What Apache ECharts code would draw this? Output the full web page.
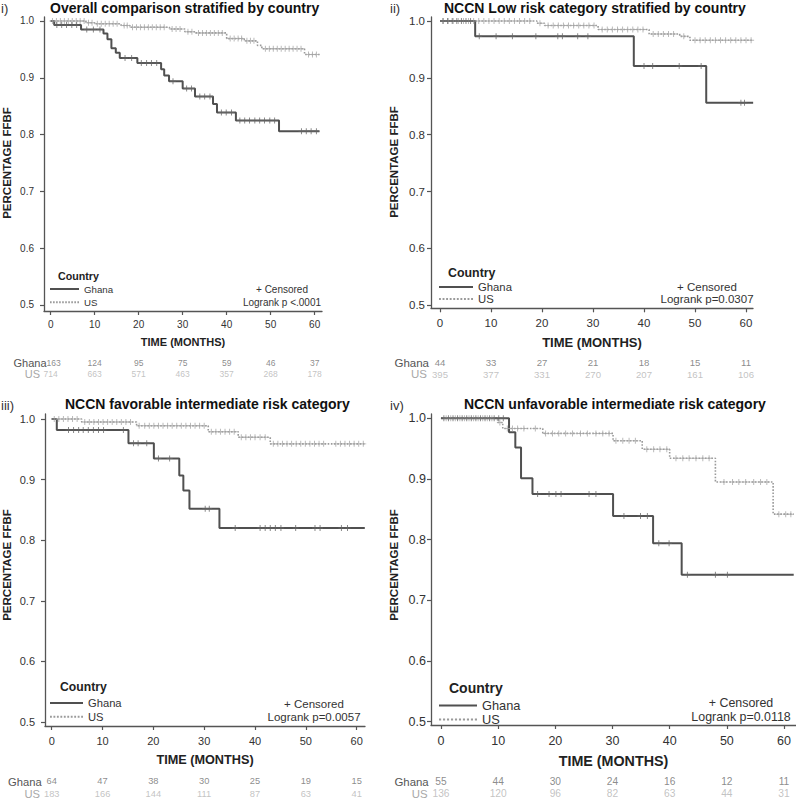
<!DOCTYPE html>
<html><head><meta charset="utf-8">
<script src="https://cdn.jsdelivr.net/npm/echarts@6/dist/echarts.min.js"></script>
<style>html,body{margin:0;padding:0;background:#fff}#c{width:796px;height:800px}</style>
</head><body><div id="c"></div>
<script>
// ---------------- DATA ----------------
const xTicks = [0, 10, 20, 30, 40, 50, 60];
const yTicks = [0.5, 0.6, 0.7, 0.8, 0.9, 1.0];
const groupNames = ['Ghana', 'US'];
const panelTags = ['i)', 'ii)', 'iii)', 'iv)'];
const panelTitles = [
  'Overall comparison stratified by country',
  'NCCN Low risk category stratified by country',
  'NCCN favorable intermediate risk category',
  'NCCN unfavorable intermediate risk category'
];
const yAxisTitle = 'PERCENTAGE FFBF';
const xAxisTitle = 'TIME (MONTHS)';
const legendTitle = 'Country';
const censoredNote = '+ Censored';
const logrankTexts = ['Logrank p <.0001', 'Logrank p=0.0307', 'Logrank p=0.0057', 'Logrank p=0.0118'];

// Panel i
const p1GhanaTimes = [0, 0.8, 6.9, 12.0, 12.9, 13.8, 14.8, 15.7, 19.7, 25.1, 25.8, 26.9, 30.0, 32.8, 36.9, 37.8, 42.1, 51.9];
const p1GhanaSurv  = [1.0, 0.993, 0.985, 0.978, 0.968, 0.952, 0.944, 0.935, 0.926, 0.915, 0.904, 0.894, 0.881, 0.867, 0.854, 0.839, 0.825, 0.806];
const p1GhanaLast = 61.1;
const p1GhanaCens = [1.4, 2.5, 3.6, 4.8, 5.9, 8.2, 9.7, 11.2, 16.9, 18.4, 20.6, 21.8, 22.9, 24.1, 27.8, 30.9, 32.0, 33.9, 35.0, 36.2, 38.8, 39.9, 41.1, 43.0, 44.1, 45.2, 46.4, 47.5, 48.6, 49.8, 50.9, 57.0, 58.1, 59.2, 60.4];
const p1USTimes = [0, 8, 10, 16, 18, 27, 30.5, 33, 40, 44, 47, 48, 57.7];
const p1USSurv  = [1.0, 0.997, 0.995, 0.992, 0.989, 0.986, 0.981, 0.979, 0.969, 0.965, 0.957, 0.951, 0.941];
const p1USLast = 61.2;
const p1USCens = [0.4, 1.3, 2.2, 3.1, 4.0, 4.9, 5.8, 6.7, 7.6, 8.6, 9.4, 10.6, 11.5, 12.4, 13.3, 14.2, 15.1, 16.7, 17.4, 18.6, 19.5, 20.4, 21.3, 22.2, 23.1, 24.0, 24.9, 25.8, 27.6, 28.5, 29.4, 31.2, 32.1, 33.6, 34.5, 35.4, 36.3, 37.2, 38.1, 39.0, 40.8, 41.7, 42.6, 43.4, 44.6, 45.4, 46.2, 48.8, 49.7, 50.6, 51.5, 52.4, 53.3, 54.2, 55.1, 56.0, 56.9, 58.6, 59.5, 60.4];
const p1GhanaRisk = [163, 124, 95, 75, 59, 46, 37];
const p1USRisk = [714, 663, 571, 463, 357, 268, 178];

// Panel ii
const p2GhanaTimes = [0, 6.9, 38.0, 52.2];
const p2GhanaSurv  = [1.0, 0.973, 0.921, 0.856];
const p2GhanaLast = 61.4;
const p2GhanaCens = [0.6, 1.5, 2.4, 3.3, 4.2, 5.1, 6.0, 7.7, 11.0, 14.2, 18.8, 23.1, 24.0, 27.0, 29.0, 40.0, 41.7, 46.9, 51.2, 59.0, 59.7];
const p2USTimes = [0, 19, 20.5, 31, 41, 47, 49];
const p2USSurv  = [1.0, 0.996, 0.992, 0.985, 0.977, 0.973, 0.966];
const p2USLast = 61.4;
const p2USCens = [0.6, 1.6, 2.6, 3.6, 4.6, 5.6, 6.6, 7.6, 8.6, 9.6, 10.6, 11.6, 12.6, 13.6, 14.6, 15.6, 16.6, 17.6, 19.6, 21.2, 22.2, 23.2, 24.2, 25.2, 26.2, 27.2, 28.2, 29.2, 30.2, 31.8, 32.8, 33.8, 34.8, 35.8, 36.8, 37.8, 38.8, 39.8, 41.8, 42.8, 43.8, 44.8, 45.8, 47.8, 50.0, 51.0, 52.0, 53.0, 54.0, 55.0, 56.0, 57.0, 58.0, 59.0, 60.0, 61.0];
const p2GhanaRisk = [44, 33, 27, 21, 18, 15, 11];
const p2USRisk = [395, 377, 331, 270, 207, 161, 106];

// Panel iii
const p3GhanaTimes = [0, 1.0, 15.1, 20.1, 25.1, 25.9, 27.1, 33.0];
const p3GhanaSurv  = [1.0, 0.982, 0.960, 0.935, 0.907, 0.882, 0.852, 0.820];
const p3GhanaLast = 61.6;
const p3GhanaCens = [3.3, 4.3, 5.3, 6.2, 7.2, 8.2, 9.2, 10.2, 14.1, 16.1, 17.0, 18.7, 21.0, 23.2, 30.2, 31.0, 36.1, 41.0, 42.0, 43.0, 44.0, 45.1, 48.0, 51.8, 52.8, 57.0, 58.2];
const p3USTimes = [0, 5.9, 16.7, 30.8, 36.7, 43.0];
const p3USSurv  = [1.0, 0.995, 0.989, 0.979, 0.970, 0.959];
const p3USLast = 61.6;
const p3USCens = [0.5, 1.4, 2.3, 3.2, 4.1, 5.0, 6.5, 7.4, 8.3, 9.2, 10.1, 11.0, 11.9, 12.8, 13.7, 14.6, 15.5, 17.2, 18.3, 19.2, 20.1, 21.0, 21.9, 22.8, 23.7, 24.6, 25.5, 26.4, 27.3, 28.2, 29.1, 30.0, 31.4, 32.3, 33.2, 34.1, 35.0, 35.9, 37.3, 38.2, 39.1, 40.0, 41.0, 42.0, 43.6, 44.5, 45.4, 46.3, 47.2, 48.1, 49.0, 49.9, 50.8, 51.7, 52.6, 53.5, 55.9, 56.8, 57.7, 58.6, 59.5, 60.4, 61.3];
const p3GhanaRisk = [64, 47, 38, 30, 25, 19, 15];
const p3USRisk = [183, 166, 144, 111, 87, 63, 41];

// Panel iv
const p4GhanaTimes = [0, 11.9, 13.0, 14.0, 16.0, 30.1, 37.1, 42.1];
const p4GhanaSurv  = [1.0, 0.977, 0.952, 0.901, 0.875, 0.839, 0.794, 0.742];
const p4GhanaLast = 61.7;
const p4GhanaCens = [0.5, 1.3, 2.1, 2.9, 3.7, 4.5, 5.3, 6.1, 6.9, 7.7, 8.5, 9.3, 10.1, 10.9, 16.9, 18.9, 20.1, 21.0, 25.9, 27.1, 32.0, 34.9, 36.1, 38.1, 39.9, 43.1, 48.0, 50.1];
const p4USTimes = [0, 9.9, 10.8, 17.8, 30.1, 35.2, 40.0, 48.0, 58.1];
const p4USSurv  = [1.0, 0.993, 0.983, 0.975, 0.963, 0.949, 0.934, 0.895, 0.842];
const p4USLast = 61.7;
const p4USCens = [0.9, 1.7, 2.5, 3.3, 4.1, 4.9, 5.7, 6.5, 7.3, 8.1, 8.9, 10.3, 11.6, 12.5, 13.4, 14.5, 16.5, 18.3, 19.5, 20.6, 21.8, 23.0, 24.4, 25.6, 27.1, 28.3, 29.4, 30.6, 31.8, 32.9, 34.0, 36.0, 37.2, 38.3, 39.5, 41.1, 42.3, 43.4, 44.6, 45.8, 46.9, 49.5, 51.0, 52.1, 53.3, 54.7, 55.9, 57.0, 59.1, 60.3, 61.2];
const p4GhanaRisk = [55, 44, 30, 24, 16, 12, 11];
const p4USRisk = [136, 120, 96, 82, 63, 44, 31];

// ---------------- ASSEMBLY ----------------
const panelData = [
  {gT: p1GhanaTimes, gS: p1GhanaSurv, gL: p1GhanaLast, gC: p1GhanaCens, uT: p1USTimes, uS: p1USSurv, uL: p1USLast, uC: p1USCens, gR: p1GhanaRisk, uR: p1USRisk},
  {gT: p2GhanaTimes, gS: p2GhanaSurv, gL: p2GhanaLast, gC: p2GhanaCens, uT: p2USTimes, uS: p2USSurv, uL: p2USLast, uC: p2USCens, gR: p2GhanaRisk, uR: p2USRisk},
  {gT: p3GhanaTimes, gS: p3GhanaSurv, gL: p3GhanaLast, gC: p3GhanaCens, uT: p3USTimes, uS: p3USSurv, uL: p3USLast, uC: p3USCens, gR: p3GhanaRisk, uR: p3USRisk},
  {gT: p4GhanaTimes, gS: p4GhanaSurv, gL: p4GhanaLast, gC: p4GhanaCens, uT: p4USTimes, uS: p4USSurv, uL: p4USLast, uC: p4USCens, gR: p4GhanaRisk, uR: p4USRisk}
];

// layout (pixels) per panel
const layout = [
  {l: 44, r: 322, t: 17, b: 311, xmin: -1.52, xmax: 61.67, ymin: 0.4894, ymax: 1.007,
   tagX: 1, tagY: 8, titleX: 50, titleY: 8, yNameX: 7, yNameY: 163,
   tickFs: 10, yMargin: 6, xMargin: 8, xNameFs: 11, xNameGap: 25.5,
   cX: 58, cY: 276, cFs: 10.7, legX: 50, legY0: 289, legPitch: 13.3, legW: 29, legFs: 9.7,
   noteX: 282, censY: 289, lrY: 302, noteFs: 10,
   rY0: 362.7, rY1: 374.3, rFs: 8.5, rlFs: 11, gLabR: 46.5, uLabR: 40, firstShift: 3},
  {l: 431, r: 753, t: 17, b: 308.3, xmin: -1.76, xmax: 61.37, ymin: 0.4947, ymax: 1.007,
   tagX: 390, tagY: 8, titleX: 444, titleY: 8, yNameX: 394, yNameY: 162,
   tickFs: 11.5, yMargin: 2, xMargin: 9, xNameFs: 13, xNameGap: 28,
   cX: 448, cY: 273, cFs: 12.4, legX: 439, legY0: 287, legPitch: 12, legW: 34, legFs: 11.3,
   noteX: 707, censY: 286.5, lrY: 299, noteFs: 11.5,
   rY0: 362.7, rY1: 374.3, rFs: 9.6, rlFs: 11.5, gLabR: 429, uLabR: 427, firstShift: 0},
  {l: 45, r: 365, t: 414, b: 726, xmin: -1.32, xmax: 61.64, ymin: 0.4934, ymax: 1.0083,
   tagX: 1, tagY: 405, titleX: 65, titleY: 404, yNameX: 7, yNameY: 565,
   tickFs: 11, yMargin: 6, xMargin: 9, xNameFs: 12.7, xNameGap: 27.5,
   cX: 60, cY: 687, cFs: 12.2, legX: 50, legY0: 703, legPitch: 13.7, legW: 33, legFs: 11.2,
   noteX: 314, censY: 703.5, lrY: 717, noteFs: 11.5,
   rY0: 781.5, rY1: 794, rFs: 9.3, rlFs: 11.2, gLabR: 41.7, uLabR: 40, firstShift: 0},
  {l: 431, r: 796, t: 414, b: 725, xmin: -1.75, xmax: 62.1, ymin: 0.4946, ymax: 1.007,
   tagX: 390, tagY: 405, titleX: 464, titleY: 404, yNameX: 394, yNameY: 565,
   tickFs: 12.5, yMargin: 1, xMargin: 9, xNameFs: 14.3, xNameGap: 29,
   cX: 449, cY: 688, cFs: 14, legX: 439, legY0: 705, legPitch: 13, legW: 38, legFs: 12.8,
   noteX: 741, censY: 703, lrY: 717, noteFs: 12.4,
   rY0: 781.5, rY1: 794, rFs: 10.2, rlFs: 11.4, gLabR: 428.7, uLabR: 427.7, firstShift: 0}
];

const FONT = '"Liberation Sans", Arial, Helvetica, sans-serif';
const GHANA_COLOR = '#505050';
const US_COLOR = '#9a9a9a';
const AXIS_COLOR = '#555555';
const PLUS = 'path://M0,4.2h10v1.6h-10z M4.2,0h1.6v10h-1.6z';
const SOLID_ICON = 'path://M0,0h30v2h-30z';
const DOTTED_ICON = 'path://' + Array.from({length: 10}, (_, i) => `M${i * 3},0h1.6v2h-1.6z`).join(' ');

function survAt(T, S, t) {
  let v = S[0];
  for (let i = 0; i < T.length; i++) if (T[i] <= t) v = S[i];
  return v;
}
function stepData(T, S, last) {
  const d = T.map((t, i) => [t, S[i]]);
  d.push([last, S[S.length - 1]]);
  return d;
}

const grids = [], xAxes = [], yAxes = [], series = [], legends = [], graphics = [];

layout.forEach((L, k) => {
  const D = panelData[k];
  const mainIdx = grids.length;
  grids.push({left: L.l, top: L.t, width: L.r - L.l, height: L.b - L.t, containLabel: false});
  const H = 2 * (L.rY1 - L.rY0);
  grids.push({left: L.l, top: L.rY0 - H / 4, width: L.r - L.l, height: H, containLabel: false});
  const riskIdx = mainIdx + 1;

  xAxes.push({
    gridIndex: mainIdx, type: 'value', min: L.xmin, max: L.xmax,
    axisLine: {show: true, onZero: false, lineStyle: {color: AXIS_COLOR, width: 1.3}},
    axisTick: {show: true, length: 4, customValues: xTicks, lineStyle: {color: AXIS_COLOR, width: 1.2}},
    axisLabel: {customValues: xTicks, fontSize: L.tickFs, color: '#333', fontFamily: FONT, margin: L.xMargin},
    splitLine: {show: false},
    name: xAxisTitle, nameLocation: 'middle', nameGap: L.xNameGap,
    nameTextStyle: {fontSize: L.xNameFs, fontWeight: 'bold', color: '#222', fontFamily: FONT}
  });
  yAxes.push({
    gridIndex: mainIdx, type: 'value', min: L.ymin, max: L.ymax,
    axisLine: {show: true, onZero: false, lineStyle: {color: AXIS_COLOR, width: 1.3}},
    axisTick: {show: true, length: 4, customValues: yTicks, lineStyle: {color: AXIS_COLOR, width: 1.2}},
    axisLabel: {customValues: yTicks, fontSize: L.tickFs, color: '#333', fontFamily: FONT, margin: L.yMargin + 4,
      formatter: v => v.toFixed(1)},
    splitLine: {show: false}
  });
  xAxes.push({gridIndex: riskIdx, type: 'value', min: L.xmin, max: L.xmax, show: false});
  yAxes.push({gridIndex: riskIdx, type: 'category', data: groupNames, inverse: true, show: false});

  const xi = xAxes.length - 2, yi = yAxes.length - 2;
  series.push({
    name: 'US', type: 'line', xAxisIndex: xi, yAxisIndex: yi, step: 'end', symbol: 'none',
    data: stepData(D.uT, D.uS, D.uL), z: 2, animation: false,
    lineStyle: {color: US_COLOR, width: 1.6, type: 'dotted'}, itemStyle: {color: US_COLOR}
  });
  series.push({
    name: 'Ghana', type: 'line', xAxisIndex: xi, yAxisIndex: yi, step: 'end', symbol: 'none',
    data: stepData(D.gT, D.gS, D.gL), z: 3, animation: false,
    lineStyle: {color: GHANA_COLOR, width: 2}, itemStyle: {color: GHANA_COLOR}
  });
  series.push({
    name: 'US censored', type: 'scatter', xAxisIndex: xi, yAxisIndex: yi, symbol: PLUS, symbolSize: 6,
    data: D.uC.map(t => [t, survAt(D.uT, D.uS, t)]), z: 4, animation: false, silent: true,
    itemStyle: {color: '#a5a5a5'}
  });
  series.push({
    name: 'Ghana censored', type: 'scatter', xAxisIndex: xi, yAxisIndex: yi, symbol: PLUS, symbolSize: 6,
    data: D.gC.map(t => [t, survAt(D.gT, D.gS, t)]), z: 5, animation: false, silent: true,
    itemStyle: {color: '#666'}
  });
  // number at risk rows
  [[D.gR, 0, '#6e6e6e'], [D.uR, 1, '#b3b3b3']].forEach(([arr, row, col]) => {
    series.push({
      name: groupNames[row] + ' at risk', type: 'scatter', xAxisIndex: xi + 1, yAxisIndex: yi + 1,
      symbolSize: 1, itemStyle: {color: 'rgba(0,0,0,0)'}, silent: true, animation: false,
      data: xTicks.map((t, i) => ({value: [t, row],
        label: (i === 0 && row === 0 && L.firstShift) ? {offset: [L.firstShift, 0]} : undefined})),
      label: {show: true, position: 'inside', fontSize: L.rFs, color: col, fontFamily: FONT,
        formatter: p => String(arr[p.dataIndex])}
    });
  });

  // legend
  legends.push({
    data: [{name: 'Ghana', icon: SOLID_ICON}, {name: 'US', icon: DOTTED_ICON}],
    orient: 'vertical', left: L.legX, top: L.legY0 - 6, symbolKeepAspect: false,
    itemWidth: L.legW, itemHeight: 2, itemGap: L.legPitch - 12, selectedMode: false,
    padding: 0,
    textStyle: {fontSize: L.legFs, color: '#333', fontFamily: FONT, lineHeight: 12}
  });

  // texts
  graphics.push({type: 'text', x: L.tagX, y: L.tagY, style: {text: panelTags[k], font: '13px ' + FONT, fill: '#333', verticalAlign: 'middle'}});
  graphics.push({type: 'text', x: L.titleX, y: L.titleY, style: {text: panelTitles[k], font: 'bold 14px ' + FONT, fill: '#111', verticalAlign: 'middle'}});
  graphics.push({type: 'text', x: L.yNameX, y: L.yNameY, rotation: Math.PI / 2,
    style: {text: yAxisTitle, font: 'bold 11.5px ' + FONT, fill: '#222', align: 'center', verticalAlign: 'middle'}});
  graphics.push({type: 'text', x: L.cX, y: L.cY, style: {text: legendTitle, font: 'bold ' + L.cFs + 'px ' + FONT, fill: '#222', verticalAlign: 'middle'}});
  graphics.push({type: 'text', x: L.noteX, y: L.censY, style: {text: censoredNote, font: L.noteFs + 'px ' + FONT, fill: '#333', align: 'center', verticalAlign: 'middle'}});
  graphics.push({type: 'text', x: L.noteX, y: L.lrY, style: {text: logrankTexts[k], font: L.noteFs + 'px ' + FONT, fill: '#333', align: 'center', verticalAlign: 'middle'}});
  graphics.push({type: 'text', x: L.gLabR, y: L.rY0, style: {text: groupNames[0], font: L.rlFs + 'px ' + FONT, fill: '#555', align: 'right', verticalAlign: 'middle'}});
  graphics.push({type: 'text', x: L.uLabR, y: L.rY1, style: {text: groupNames[1], font: L.rlFs + 'px ' + FONT, fill: '#a8a8a8', align: 'right', verticalAlign: 'middle'}});
});

const chart = echarts.init(document.getElementById('c'), null, {renderer: 'svg'});
chart.setOption({
  backgroundColor: '#fff',
  animation: false,
  grid: grids, xAxis: xAxes, yAxis: yAxes, series: series, legend: legends,
  graphic: graphics
});
</script></body></html>
